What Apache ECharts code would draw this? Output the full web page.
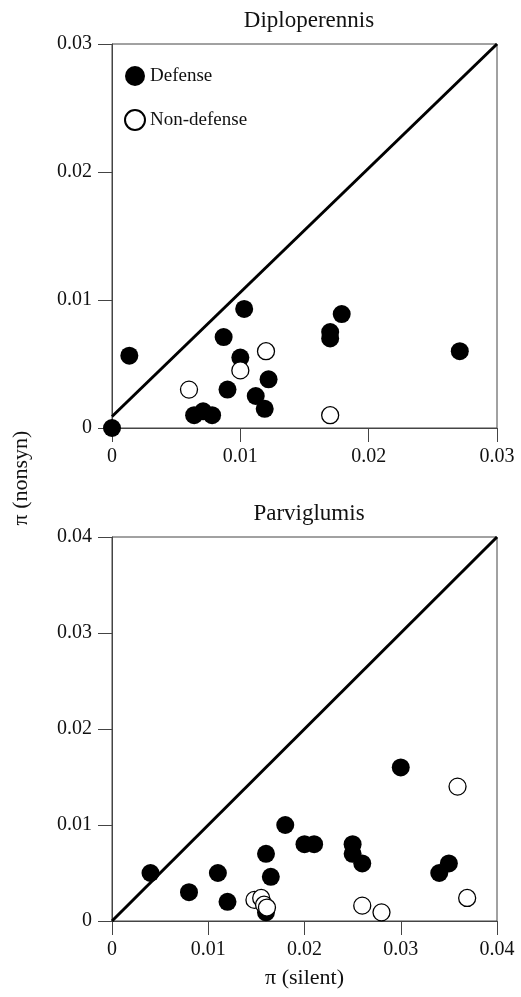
<!DOCTYPE html>
<html>
<head>
<meta charset="utf-8">
<script src="https://cdn.jsdelivr.net/npm/echarts@6/dist/echarts.min.js"></script>
<style>
  html, body { margin: 0; padding: 0; background: #fff; }
  #chart { width: 521px; height: 997px; }
</style>
</head>
<body>
<div id="chart"></div>
<script>
// Diploperennis (top panel), [pi silent, pi nonsyn]
const diploDefense = [
  [0, 0], [0.00135, 0.00565], [0.0103, 0.0093], [0.0179, 0.0089],
  [0.0170, 0.0075], [0.0170, 0.0070], [0.0271, 0.0060], [0.0087, 0.0071],
  [0.0100, 0.0055], [0.0122, 0.0038], [0.0090, 0.0030], [0.0112, 0.0025],
  [0.0119, 0.0015], [0.0064, 0.0010], [0.0071, 0.0013], [0.0078, 0.0010]
]
const diploNonDefense = [
  [0.0120, 0.0060], [0.0100, 0.0045], [0.0060, 0.0030], [0.0170, 0.0010]
]
const diploLine = [[0, 0.0009], [0.03, 0.03]]

// Parviglumis (bottom panel)
const parviDefense = [
  [0.0040, 0.0050], [0.0080, 0.0030], [0.0110, 0.0050], [0.0120, 0.0020],
  [0.0160, 0.0070], [0.0165, 0.0046], [0.0160, 0.0009], [0.0180, 0.0100],
  [0.0200, 0.0080], [0.0210, 0.0080], [0.0250, 0.0080], [0.0250, 0.0070],
  [0.0260, 0.0060], [0.0300, 0.0160], [0.0340, 0.0050], [0.0350, 0.0060]
]
const parviNonDefense = [
  [0.0359, 0.0140], [0.0369, 0.0024], [0.0260, 0.0016], [0.0280, 0.0009],
  [0.0148, 0.0022], [0.0155, 0.0024], [0.0158, 0.0017], [0.0161, 0.0014]
]
const parviLine = [[0, 0], [0.04, 0.04]]

const diploTicks = [0, 0.01, 0.02, 0.03]
const parviTicks = [0, 0.01, 0.02, 0.03, 0.04]

const font = 'Liberation Serif'
const axisColor = '#444'

function makeAxis(ticks, gridIndex, isX) {
  return {
    type: 'value',
    gridIndex: gridIndex,
    min: ticks[0],
    max: ticks[ticks.length - 1],
    interval: 0.01,
    axisLine: { show: true, lineStyle: { color: axisColor, width: 1 } },
    axisTick: { show: true, length: 14, lineStyle: { color: axisColor } },
    splitLine: { show: false },
    axisLabel: {
      color: '#111',
      fontFamily: font,
      fontSize: 20,
      margin: isX ? 19 : 20,
      showMinLabel: true,
      showMaxLabel: true,
      formatter: function (v) {
        return v === 0 ? '0' : v.toFixed(2)
      }
    }
  }
}

const filledStyle = { color: '#000', borderColor: '#000', borderWidth: 0, opacity: 1 }
const openStyle = { color: '#fff', borderColor: '#000', borderWidth: 1.3, opacity: 1 }

const chart = echarts.init(document.getElementById('chart'), null, { renderer: 'canvas' })

chart.setOption({
  animation: false,
  backgroundColor: '#fff',
  title: [
    {
      text: 'Diploperennis',
      left: 304, top: 4, textAlign: 'center',
      textStyle: { fontFamily: font, fontSize: 23, fontWeight: 'normal', color: '#111' }
    },
    {
      text: 'Parviglumis',
      left: 304, top: 497, textAlign: 'center',
      textStyle: { fontFamily: font, fontSize: 23, fontWeight: 'normal', color: '#111' }
    }
  ],
  legend: {
    data: ['Defense', 'Non-defense'],
    orient: 'vertical',
    left: 119,
    top: 61,
    itemGap: 23,
    itemWidth: 20,
    itemHeight: 20,
    textStyle: { fontFamily: font, fontSize: 19, color: '#111' },
    selectedMode: false
  },
  grid: [
    { left: 112, top: 44, width: 385, height: 384, show: true, borderColor: axisColor, borderWidth: 1 },
    { left: 112, top: 537, width: 385, height: 384, show: true, borderColor: axisColor, borderWidth: 1 }
  ],
  xAxis: [
    makeAxis(diploTicks, 0, true),
    Object.assign(makeAxis(parviTicks, 1, true), {
      name: 'π (silent)',
      nameLocation: 'middle',
      nameGap: 46,
      nameTextStyle: { fontFamily: font, fontSize: 22, color: '#111' }
    })
  ],
  yAxis: [
    makeAxis(diploTicks, 0, false),
    makeAxis(parviTicks, 1, false)
  ],
  graphic: [
    {
      type: 'text',
      x: 21, y: 478,
      rotation: Math.PI / 2,
      style: {
        text: 'π (nonsyn)',
        font: '22px "Liberation Serif"',
        fill: '#111',
        textAlign: 'center',
        textVerticalAlign: 'middle'
      }
    }
  ],
  series: [
    {
      type: 'line', xAxisIndex: 0, yAxisIndex: 0, data: diploLine,
      symbol: 'none', lineStyle: { color: '#000', width: 3 }, z: 1, silent: true
    },
    {
      name: 'Defense', type: 'scatter', xAxisIndex: 0, yAxisIndex: 0,
      data: diploDefense, symbol: 'circle', symbolSize: 18, itemStyle: filledStyle, z: 2
    },
    {
      name: 'Non-defense', type: 'scatter', xAxisIndex: 0, yAxisIndex: 0,
      data: diploNonDefense, symbol: 'circle', symbolSize: 17, itemStyle: openStyle, z: 3
    },
    {
      type: 'line', xAxisIndex: 1, yAxisIndex: 1, data: parviLine,
      symbol: 'none', lineStyle: { color: '#000', width: 3 }, z: 1, silent: true
    },
    {
      name: 'Defense (parviglumis)', type: 'scatter', xAxisIndex: 1, yAxisIndex: 1,
      data: parviDefense, symbol: 'circle', symbolSize: 18, itemStyle: filledStyle, z: 2
    },
    {
      name: 'Non-defense (parviglumis)', type: 'scatter', xAxisIndex: 1, yAxisIndex: 1,
      data: parviNonDefense, symbol: 'circle', symbolSize: 17, itemStyle: openStyle, z: 3
    }
  ]
})
</script>
</body>
</html>
